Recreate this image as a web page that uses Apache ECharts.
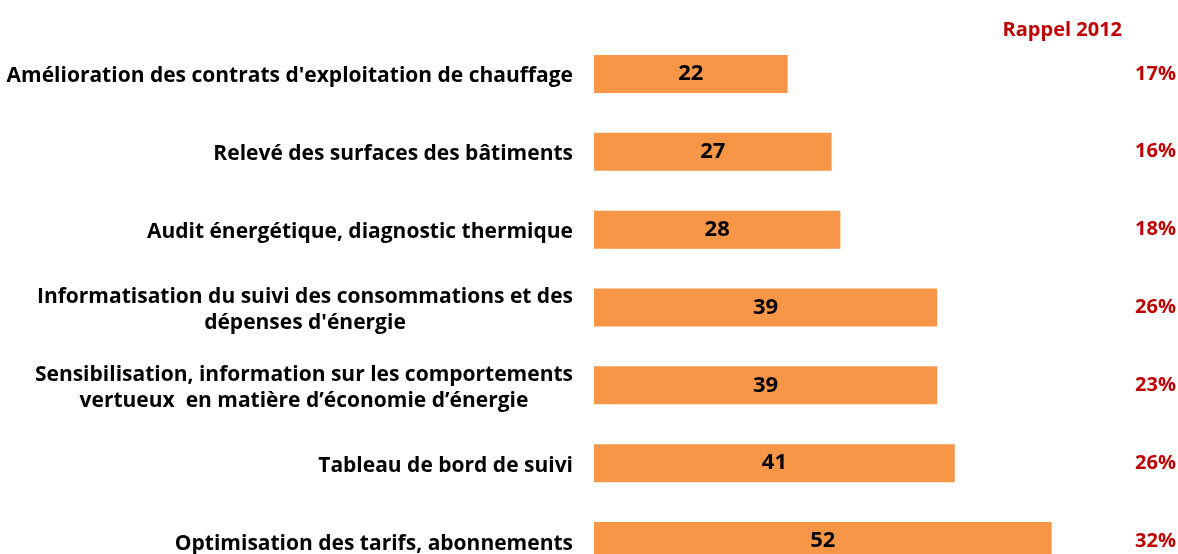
<!DOCTYPE html>
<html>
<head>
<meta charset="utf-8">
<script src="https://cdn.jsdelivr.net/npm/echarts@6/dist/echarts.min.js"></script>
<style>
  html, body { margin: 0; padding: 0; background: #fff; }
  #chart { width: 1178px; height: 554px; }
</style>
</head>
<body>
<div id="chart"></div>
<script>
var categories = [
    "Amélioration des contrats d'exploitation de chauffage",
    "Relevé des surfaces des bâtiments",
    "Audit énergétique, diagnostic thermique",
    "Informatisation du suivi des consommations et des\ndépenses d'énergie",
    "Sensibilisation, information sur les comportements\nvertueux  en matière d’économie d’énergie",
    "Tableau de bord de suivi",
    "Optimisation des tarifs, abonnements"
];
var values = [22, 27, 28, 39, 39, 41, 52];
var rappel2012 = ['17%', '16%', '18%', '26%', '23%', '26%', '32%'];

var font = "'Open Sans', sans-serif";

var myChart = echarts.init(document.getElementById('chart'));
var option = {
    animation: false,
    title: {
        text: 'Rappel 2012',
        right: 51,
        top: 15,
        textStyle: { color: '#C00000', fontFamily: font, fontWeight: 'bold', fontSize: 20 }
    },
    grid: {
        left: 594,
        top: 35,
        width: 528,
        height: 545,
        outerBoundsMode: 'none'
    },
    xAxis: {
        type: 'value',
        min: 0,
        max: 60,
        show: false
    },
    yAxis: [
        {
            type: 'category',
            data: categories,
            inverse: true,
            axisLine: { show: false },
            axisTick: { show: false },
            axisLabel: {
                margin: 21,
                padding: [5, 0, 0, 0],
                formatter: function (v) {
                    return v.split('\n').map(function (s) { return '{c|' + s + '}'; }).join('\n');
                },
                rich: {
                    c: {
                        align: 'center',
                        fontFamily: font,
                        fontWeight: 'bold',
                        fontSize: 21,
                        color: '#000',
                        lineHeight: 26
                    }
                }
            }
        },
        {
            type: 'category',
            data: rappel2012,
            inverse: true,
            position: 'right',
            axisLine: { show: false },
            axisTick: { show: false },
            axisLabel: {
                margin: 54,
                align: 'right',
                padding: [3, 0, 0, 0],
                fontFamily: font,
                fontWeight: 'bold',
                fontSize: 20,
                color: '#C00000'
            }
        }
    ],
    series: [
        {
            type: 'bar',
            data: values,
            barWidth: 38,
            itemStyle: { color: '#F79646' },
            label: {
                show: true,
                position: 'inside',
                fontFamily: font,
                fontWeight: 'bold',
                fontSize: 22,
                color: '#000'
            }
        }
    ]
};
myChart.setOption(option);
</script>
</body>
</html>
